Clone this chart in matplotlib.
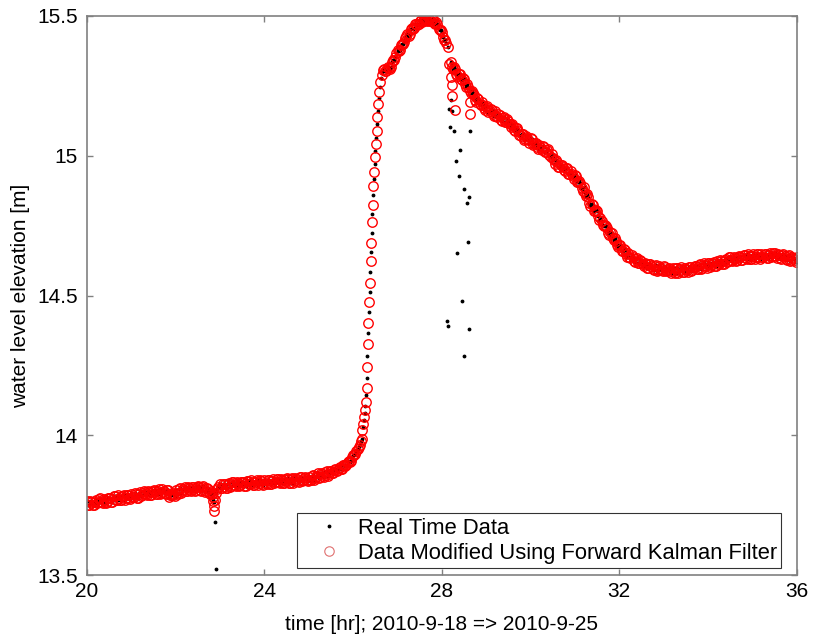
import numpy as np
import matplotlib
matplotlib.use("Agg")
import matplotlib.pyplot as plt

plt.rcParams['font.family'] = ['Liberation Sans', 'DejaVu Sans']

# water level [m]; dense parts are 0.05 hr samples plus a second set
# half a step later (*_mid), sparse parts have their times listed
STEP = 0.05
HALF = 0.025

base1_t0 = 20.00
base1_h = [13.765, 13.750, 13.763, 13.750, 13.769, 13.760, 13.775, 13.758, 13.769, 13.763,
           13.776, 13.762, 13.781, 13.770, 13.785, 13.770, 13.781, 13.770, 13.788, 13.777,
           13.791, 13.779, 13.791, 13.777, 13.798, 13.788, 13.798, 13.785, 13.798, 13.786,
           13.805, 13.790, 13.802, 13.789, 13.806, 13.795, 13.805, 13.780, 13.788, 13.786,
           13.804, 13.791, 13.810, 13.799, 13.815, 13.799, 13.810, 13.799, 13.816, 13.805,
           13.818, 13.804, 13.814, 13.797, 13.813, 13.798, 13.801]
base1_mid = [13.751, 13.765, 13.750, 13.763, 13.756, 13.772, 13.763, 13.773, 13.759, 13.774,
             13.774, 13.763, 13.782, 13.769, 13.777, 13.768, 13.786, 13.776, 13.787, 13.772,
             13.778, 13.793, 13.777, 13.790, 13.783, 13.799, 13.789, 13.800, 13.786, 13.800,
             13.800, 13.789, 13.807, 13.794, 13.801, 13.789, 13.803, 13.785, 13.792, 13.782,
             13.793, 13.808, 13.793, 13.806, 13.799, 13.815, 13.805, 13.815, 13.801, 13.815,
             13.814, 13.802, 13.818, 13.802, 13.806, 13.791]

dip_t = [22.82, 22.84, 22.85, 22.86, 22.87, 22.89, 22.91, 22.93, 22.95]
dip_kal = [13.790, 13.778, 13.765, 13.748, 13.729, 13.770, 13.795, 13.808, 13.815]
dip_rt_t = [22.82, 22.84, 22.85, 22.86, 22.88, 22.90, 22.91, 22.93, 22.95]
dip_rt = [13.790, 13.778, 13.768, 13.760, 13.691, 13.521, 13.795, 13.808, 13.815]

base2_t0 = 23.00
base2_h = [13.827, 13.812, 13.824, 13.811, 13.829, 13.820, 13.834, 13.817, 13.828, 13.821,
           13.834, 13.819, 13.837, 13.825, 13.840, 13.823, 13.834, 13.822, 13.839, 13.827,
           13.841, 13.827, 13.839, 13.824, 13.844, 13.833, 13.843, 13.828, 13.841, 13.828,
           13.847, 13.831, 13.843, 13.830, 13.847, 13.838, 13.852, 13.835, 13.846, 13.839,
           13.852, 13.839, 13.858, 13.848, 13.864, 13.849, 13.861, 13.852, 13.871, 13.861,
           13.873, 13.866, 13.880, 13.874, 13.886, 13.879, 13.895, 13.892, 13.909, 13.908,
           13.928, 13.933, 13.952, 13.965, 13.988]
base2_mid = [13.813, 13.827, 13.811, 13.824, 13.816, 13.832, 13.822, 13.832, 13.818, 13.832,
             13.832, 13.820, 13.838, 13.824, 13.832, 13.821, 13.839, 13.828, 13.838, 13.822,
             13.828, 13.841, 13.825, 13.837, 13.829, 13.844, 13.834, 13.843, 13.829, 13.842,
             13.842, 13.830, 13.848, 13.835, 13.842, 13.832, 13.850, 13.840, 13.850, 13.835,
             13.841, 13.856, 13.841, 13.855, 13.848, 13.865, 13.856, 13.868, 13.856, 13.871,
             13.866, 13.877, 13.871, 13.884, 13.879, 13.893, 13.890, 13.905, 13.903, 13.922,
             13.929, 13.945, 13.957, 13.978]

rise_t = [26.204, 26.227, 26.249, 26.265, 26.281, 26.303, 26.317, 26.330, 26.345, 26.362,
          26.377, 26.393, 26.410, 26.425, 26.438, 26.452, 26.475, 26.495, 26.510, 26.530,
          26.548, 26.565, 26.587, 26.603, 26.641, 26.677]
rise_kal = [14.019, 14.040, 14.066, 14.090, 14.120, 14.168, 14.245, 14.326, 14.403, 14.476,
            14.546, 14.623, 14.689, 14.762, 14.824, 14.892, 14.943, 14.994, 15.041, 15.089,
            15.138, 15.184, 15.229, 15.265, 15.289, 15.307]
rise_rt_t = [26.215, 26.238, 26.257, 26.273, 26.292, 26.310, 26.323, 26.337, 26.353, 26.370,
             26.385, 26.401, 26.418, 26.431, 26.445, 26.463, 26.485, 26.502, 26.520, 26.539,
             26.556, 26.576, 26.595, 26.622, 26.660]
rise_rt = [14.030, 14.053, 14.078, 14.105, 14.144, 14.206, 14.285, 14.365, 14.440, 14.511,
           14.585, 14.656, 14.725, 14.793, 14.858, 14.918, 14.969, 15.018, 15.065, 15.113,
           15.161, 15.206, 15.247, 15.277, 15.298]

peak_t0 = 26.70
peak_h = [15.311, 15.303, 15.315, 15.317, 15.344, 15.352, 15.377, 15.378, 15.400, 15.407,
          15.429, 15.429, 15.453, 15.454, 15.473, 15.469, 15.482, 15.477, 15.492, 15.484,
          15.490, 15.481, 15.489, 15.473, 15.473, 15.450, 15.441, 15.413, 15.403]
peak_mid = [15.302, 15.316, 15.312, 15.334, 15.342, 15.368, 15.375, 15.396, 15.399, 15.422,
            15.434, 15.435, 15.457, 15.457, 15.472, 15.471, 15.487, 15.482, 15.490, 15.483,
            15.482, 15.489, 15.476, 15.478, 15.455, 15.450, 15.425, 15.414]

drop_t = [28.14, 28.16, 28.20, 28.22, 28.23, 28.29, 28.63, 28.63]
drop_kal = [15.390, 15.328, 15.283, 15.253, 15.215, 15.164, 15.193, 15.149]
drop_rt_t = [28.14, 28.22, 28.196, 28.233, 28.158, 28.180, 28.277, 28.631, 28.406, 28.316,
             28.390, 28.503, 28.615, 28.557, 28.579, 28.331, 28.444, 28.120, 28.135, 28.602,
             28.489]
drop_rt = [15.390, 15.328, 15.199, 15.161, 15.167, 15.102, 15.090, 15.090, 15.021, 14.981,
           14.929, 14.881, 14.851, 14.830, 14.690, 14.651, 14.479, 14.409, 14.390, 14.379,
           14.282]

fall_t0 = 28.20
fall_h = [15.337, 15.309, 15.309, 15.285, 15.292, 15.272, 15.275, 15.247, 15.247, 15.226,
          15.224, 15.198, 15.206, 15.186, 15.193, 15.170, 15.175, 15.158, 15.169, 15.151,
          15.159, 15.140, 15.146, 15.126, 15.139, 15.122, 15.125, 15.103, 15.108, 15.088,
          15.098, 15.074, 15.077, 15.057, 15.069, 15.055, 15.064, 15.040, 15.044, 15.031,
          15.039, 15.020, 15.032, 15.015, 15.023, 14.995, 14.993, 14.971, 14.979, 14.961,
          14.968, 14.949, 14.955, 14.934, 14.946, 14.928, 14.930, 14.907, 14.909, 14.883,
          14.887, 14.855, 14.851, 14.821, 14.823, 14.801, 14.802, 14.771, 14.768, 14.749,
          14.750, 14.723, 14.728, 14.704, 14.707, 14.680, 14.680, 14.659, 14.667, 14.647,
          14.653, 14.633, 14.639, 14.619, 14.633, 14.618, 14.623, 14.605, 14.614, 14.598,
          14.614, 14.595, 14.604, 14.588, 14.604, 14.593, 14.605, 14.586, 14.595, 14.586,
          14.598, 14.582, 14.599, 14.587, 14.601, 14.584, 14.595, 14.584, 14.602, 14.592,
          14.607, 14.595, 14.608, 14.594, 14.615, 14.605, 14.616, 14.603, 14.617, 14.605,
          14.625, 14.611, 14.624, 14.612, 14.631, 14.623, 14.638, 14.622, 14.633, 14.627,
          14.640, 14.626, 14.644, 14.633, 14.648, 14.631, 14.642, 14.631, 14.648, 14.636,
          14.650, 14.636, 14.648, 14.633, 14.653, 14.642, 14.651, 14.635, 14.646, 14.632,
          14.648, 14.630, 14.640, 14.624, 14.639, 14.627, 14.638]
fall_mid = [15.317, 15.318, 15.291, 15.293, 15.274, 15.279, 15.258, 15.257, 15.230, 15.230,
            15.216, 15.194, 15.203, 15.181, 15.182, 15.165, 15.178, 15.161, 15.165, 15.143,
            15.143, 15.151, 15.129, 15.136, 15.121, 15.130, 15.112, 15.114, 15.092, 15.098,
            15.089, 15.069, 15.079, 15.059, 15.062, 15.047, 15.059, 15.042, 15.046, 15.025,
            15.026, 15.034, 15.012, 15.019, 15.001, 15.005, 14.983, 14.983, 14.961, 14.968,
            14.961, 14.944, 14.956, 14.935, 14.935, 14.917, 14.927, 14.907, 14.904, 14.875,
            14.865, 14.862, 14.830, 14.826, 14.804, 14.807, 14.783, 14.779, 14.752, 14.754,
            14.742, 14.718, 14.723, 14.697, 14.694, 14.673, 14.680, 14.661, 14.662, 14.638,
            14.637, 14.644, 14.622, 14.629, 14.616, 14.627, 14.612, 14.618, 14.600, 14.611,
            14.607, 14.593, 14.608, 14.592, 14.598, 14.586, 14.602, 14.590, 14.598, 14.582,
            14.586, 14.599, 14.582, 14.594, 14.585, 14.600, 14.590, 14.601, 14.588, 14.603,
            14.604, 14.594, 14.612, 14.600, 14.608, 14.599, 14.618, 14.609, 14.619, 14.605,
            14.612, 14.627, 14.612, 14.626, 14.619, 14.636, 14.627, 14.637, 14.624, 14.638,
            14.638, 14.627, 14.645, 14.632, 14.640, 14.629, 14.647, 14.637, 14.647, 14.631,
            14.637, 14.650, 14.634, 14.646, 14.638, 14.653, 14.641, 14.649, 14.633, 14.645,
            14.642, 14.628, 14.644, 14.628, 14.633, 14.620]

x_ticks = [20, 24, 28, 32, 36]
y_ticks = [13.5, 14, 14.5, 15, 15.5]
y_ticklabels = ['13.5', '14', '14.5', '15', '15.5']


def times(t0, vals):
    return list(t0 + STEP * np.arange(len(vals)))


dense_t = (times(base1_t0, base1_h) + times(base1_t0 + HALF, base1_mid)
           + times(base2_t0, base2_h) + times(base2_t0 + HALF, base2_mid)
           + times(peak_t0, peak_h) + times(peak_t0 + HALF, peak_mid)
           + times(fall_t0, fall_h) + times(fall_t0 + HALF, fall_mid))
dense_h = (base1_h + base1_mid + base2_h + base2_mid + peak_h + peak_mid
           + fall_h + fall_mid)

t_kal = dense_t + dip_t + rise_t + drop_t
h_kal = dense_h + dip_kal + rise_kal + drop_kal
t_rt = dense_t + dip_rt_t + rise_rt_t + drop_rt_t
h_rt = dense_h + dip_rt + rise_rt + drop_rt

fig = plt.figure(figsize=(8.13, 6.37), dpi=100)
ax = fig.add_axes([0.107, 0.0973, 0.873, 0.8776])

ax.plot(t_rt, h_rt, linestyle='none', marker='.', color='black', markersize=3.5,
        label='Real Time Data')
ax.plot(t_kal, h_kal, linestyle='none', marker='o', markerfacecolor='none',
        markeredgecolor='#ff0000', markeredgewidth=1.0, markersize=6.8,
        label='Data Modified Using Forward Kalman Filter')

ax.set_xlim(20, 36)
ax.set_ylim(13.5, 15.5)
ax.set_xticks(x_ticks)
ax.set_yticks(y_ticks)
ax.set_yticklabels(y_ticklabels)

for s in ax.spines.values():
    s.set_color('#808080')
    s.set_linewidth(1.2)
ax.tick_params(direction='in', length=4.5, width=1, color='#808080', labelsize=15,
               top=True, right=True)
ax.tick_params(axis='x', pad=5)
ax.tick_params(axis='y', pad=6.5)

ax.set_xlabel('time [hr]; 2010-9-18 => 2010-9-25', fontsize=15, labelpad=10)
ax.set_ylabel('water level elevation [m]', fontsize=15, labelpad=5)

leg = ax.legend(loc='lower right', bbox_to_anchor=(0.9785, 0.012), borderaxespad=0,
                fontsize=15.8, frameon=True, fancybox=False, edgecolor='black',
                borderpad=0.2, labelspacing=0.2, handlelength=2.55, handletextpad=0.05)
leg.get_frame().set_linewidth(0.8)
# legend circle in the reference is thinner and paler than the plotted ones
leg.legend_handles[1].set_markeredgewidth(0.8)
leg.legend_handles[1].set_markeredgecolor('#e07070')

fig.savefig('out.png', dpi=100)
